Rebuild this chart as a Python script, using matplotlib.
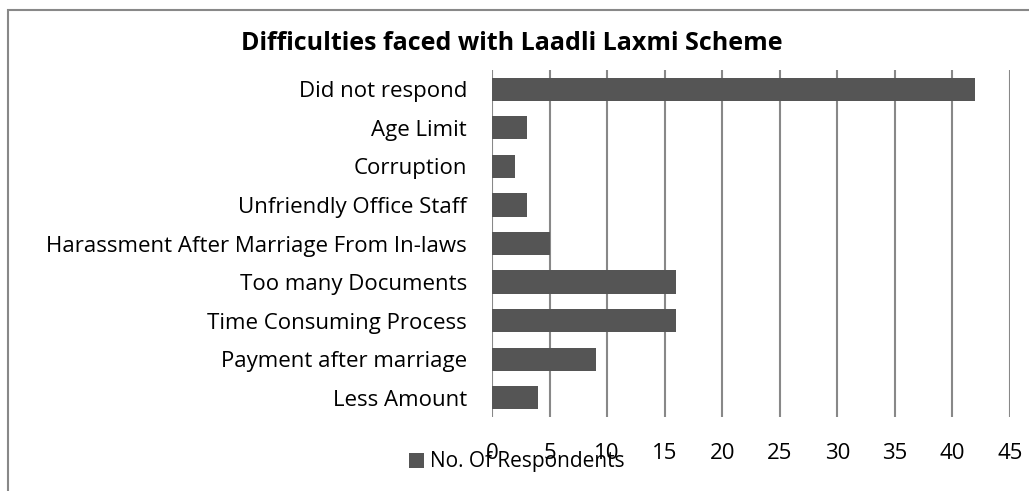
import matplotlib.pyplot as plt
from matplotlib.patches import Rectangle

categories = ['Less Amount', 'Payment after marriage', 'Time Consuming Process',
              'Too many Documents', 'Harassment After Marriage From In-laws',
              'Unfriendly Office Staff', 'Corruption', 'Age Limit', 'Did not respond']
respondents = [4, 9, 16, 16, 5, 3, 2, 3, 42]
xticks = [0, 5, 10, 15, 20, 25, 30, 35, 40, 45]

plt.rcParams['font.family'] = ['Open Sans', 'DejaVu Sans']

W, H = 1029, 491
fig = plt.figure(figsize=(W / 100, H / 100), dpi=100)
ax = fig.add_axes([492 / W, 1 - 417 / H, (1010 - 492) / W, (417 - 70) / H])

ax.barh(range(len(categories)), respondents, height=0.6, color='#555555',
        label='No. Of Respondents', zorder=3)
ax.set_xlim(0, 45)
ax.set_ylim(-0.5, len(categories) - 0.5)
ax.set_xticks(xticks)
ax.set_yticks(range(len(categories)))
ax.set_yticklabels(categories)
ax.grid(axis='x', color='#888888', linewidth=1.5, zorder=0)
for s in ax.spines.values():
    s.set_visible(False)
ax.tick_params(axis='both', length=0, labelsize=16, colors='black')
ax.tick_params(axis='x', pad=19)
ax.tick_params(axis='y', pad=18)

fig.text(512 / W, 1 - 44 / H, 'Difficulties faced with Laadli Laxmi Scheme',
         ha='center', va='center', fontsize=18, fontweight='bold')

ax.legend(loc='center left', bbox_to_anchor=(409 / W, 1 - 462 / H),
          bbox_transform=fig.transFigure, frameon=False, fontsize=15,
          handlelength=0.7, handleheight=0.7, handletextpad=0.3, borderaxespad=0,
          borderpad=0)

fig.patches.append(Rectangle((8 / W, -0.1), 1.2, 1.1 - 10 / H, transform=fig.transFigure,
                             fill=False, edgecolor='#888888', linewidth=1.5))

fig.savefig('out.png', dpi=100)
